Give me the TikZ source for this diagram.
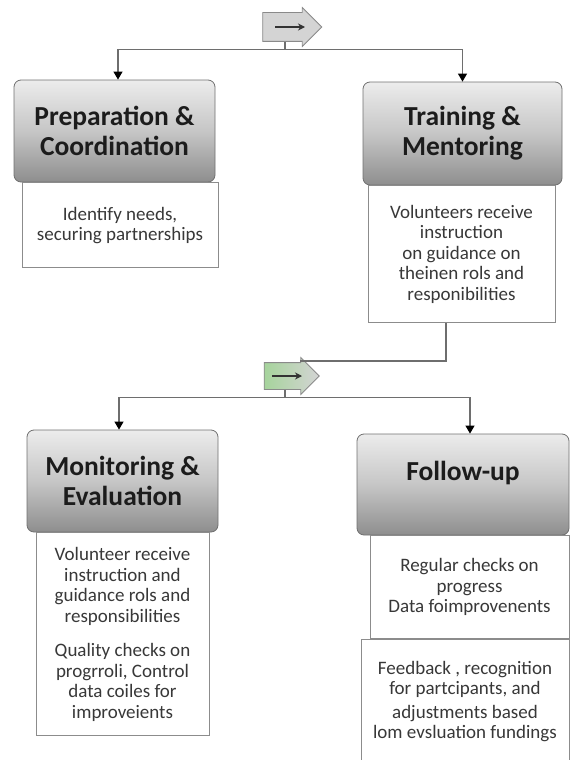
\documentclass[tikz,border=0pt]{standalone}
\usepackage{fontspec}
\setmainfont{Carlito}
\usetikzlibrary{positioning,shapes.arrows,arrows.meta}
\definecolor{hdrtop}{HTML}{ECECEC}
\definecolor{hdrmid}{HTML}{C6C6C6}
\definecolor{hdrbot}{HTML}{8E8E8E}
\definecolor{hdrline}{HTML}{707070}
\definecolor{hdrtext}{HTML}{1C1C1C}
\definecolor{bodyline}{HTML}{8C8C8C}
\definecolor{bodytext}{HTML}{383838}
\definecolor{linkgray}{HTML}{6E6E6E}
\definecolor{iconline}{HTML}{8A8A8A}
\definecolor{icongray}{HTML}{D4D4D4}
\definecolor{icongreen}{HTML}{A6D49C}
\definecolor{arrowdark}{HTML}{333333}
\begin{document}
\begin{tikzpicture}[x=1pt,y=-1pt,
head/.style={draw=hdrline,line width=0.8pt,rounded corners=7pt,top color=hdrtop,bottom color=hdrbot,middle color=hdrmid,
  font=\fontsize{27.5}{30}\selectfont\bfseries,text=hdrtext,align=center,inner sep=0pt},
body/.style={draw=bodyline,line width=0.8pt,fill=white,font=\fontsize{19}{20.5}\selectfont,text=bodytext,align=center,inner sep=0pt},
icon/.style={single arrow,draw=iconline,line width=0.8pt,single arrow head extend=5pt,inner sep=0pt},
link/.style={draw=linkgray,line width=1.1pt},
tip/.style={link,-{Triangle[width=9pt,length=8pt,color=black]}}]
\useasboundingbox (0,0) rectangle (570,760);
% first step pair
\node[icon,fill=icongray,minimum height=59pt,text height=14pt,text depth=14pt](i1) at (285,27) {};
\draw[line width=1.8pt,arrowdark,-{Stealth[length=7pt,width=7pt]}]([xshift=-10pt]i1.center)--([xshift=20pt]i1.center);
\node[head,minimum width=201pt,minimum height=102pt](h1) at (114.5,131) {Preparation \&\\Coordination};
\node[head,minimum width=199pt,minimum height=103pt](h2) at (462.5,133.5) {Training \&\\Mentoring};
\node[body,minimum width=196pt,minimum height=85pt,below=0pt of h1,xshift=5.5pt](b1) {Identify needs,\\securing partnerships};
\node[body,minimum width=187pt,minimum height=137pt,below=0pt of h2,xshift=-1pt](b2) {Volunteers receive\\instruction\\on guidance on\\theinen rols and\\responibilities};
\coordinate[below=8pt of i1](j1);
\draw[link](i1)--(j1);
\draw[tip](j1)-|([xshift=3.5pt]h1.north);
\draw[tip](j1)-|(h2);
% second step pair
\node[icon,left color=icongreen,right color=icongray,minimum height=55pt,text height=13pt,text depth=13pt](i2) at (285,376) {};
\draw[line width=1.8pt,arrowdark,-{Stealth[length=7pt,width=7pt]}]([xshift=-13pt]i2.center)--([xshift=17pt]i2.center);
\coordinate(k1) at (300,361);
\draw[link]([xshift=-15.5pt]b2.south)|-(k1);
\node[head,minimum width=191pt,minimum height=102pt](h3) at (122.5,481) {Monitoring \&\\Evaluation};
\node[head,minimum width=212pt,minimum height=101pt,text height=18pt,text depth=26pt](h4) at (463,484.5) {Follow-up};
\node[body,minimum width=173pt,minimum height=203pt,below=0pt of h3](b3) {Volunteer receive\\instruction and\\guidance rols and\\responsibilities\\[14pt]Quality checks on\\progrroli, Control\\data coiles for\\improveients};
\node[body,minimum width=199pt,minimum height=103pt,below=0pt of h4,xshift=6.5pt](b4) {Regular checks on\\progress\\Data foimprovenents};
\node[body,minimum width=208pt,minimum height=124pt,below=0pt of b4,xshift=-4.5pt](b5) {Feedback , recognition\\for partcipants, and\\[3pt]adjustments based\\lom evsluation fundings};
\coordinate[below=8pt of i2](j2);
\draw[link](i2)--(j2);
\draw[tip](j2)-|([xshift=-3.5pt]h3.north);
\draw[tip](j2)-|([xshift=7pt]h4.north);
\end{tikzpicture}
\end{document}
